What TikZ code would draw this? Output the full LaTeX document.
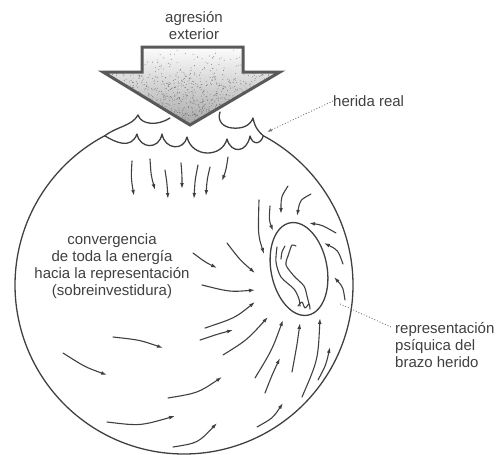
\documentclass[tikz,border=0pt]{standalone}
\usepackage{fontspec}
\setmainfont{Liberation Sans}
\usetikzlibrary{arrows.meta}
\begin{document}
\begin{tikzpicture}[x=1pt,y=-1pt,
  ink/.style={draw=black!75, line width=1.3pt, line cap=round, line join=round},
  flow/.style={draw=black!75, line width=1.1pt, line cap=round, -{Latex[length=6pt,width=3.8pt]}},
  leader/.style={draw=black!55, line width=0.9pt, dotted},
  lbl/.style={font=\fontsize{15}{17}\selectfont, text=black!75, inner sep=0pt}
]
\useasboundingbox (0,0) rectangle (498,455);

% ---------- block arrow (external aggression) ----------
\coordinate (a1) at (142,47);
\coordinate (a2) at (243,47);
\coordinate (a3) at (243,72);
\coordinate (a4) at (280,72);
\coordinate (a5) at (190,125);
\coordinate (a6) at (103,72);
\coordinate (a7) at (142,72);
\begin{scope}
  \clip (a1) -- (a2) -- (a3) -- (a4) -- (a5) -- (a6) -- (a7) -- cycle;
  \shade[top color=white, bottom color=black!35] (100,45) rectangle (282,127);
  \pgfmathsetseed{11}
  \foreach \i in {1,...,1400}{
    \pgfmathsetmacro{\px}{103+177*rnd}
    \pgfmathsetmacro{\py}{47+78*sqrt(rnd)}
    \fill[black!55] (\px,\py) circle[radius=0.45pt];
  }
\end{scope}
\draw[draw=black!65, line width=3pt, line join=miter]
  (a1) -- (a2) -- (a3) -- (a4) -- (a5) -- (a6) -- (a7) -- cycle;

\node[lbl] (agr1) at (194,19) {agresión};
\node[lbl] (agr2) at (194,34) {exterior};

% ---------- the psyche: circle broken by the wound ----------
\coordinate (wL) at (104.7,135.8);
\coordinate (wR) at (263.3,135.8);
\draw[ink] plot[domain=-62:242, samples=160, smooth]
  ({184+169*cos(\x)},{285+169*sin(\x)});

% scalloped edge of the wound
\draw[ink] (wL) .. controls (115,142) and (131,150) .. (137,134)
  .. controls (140,149) and (159,150) .. (162,134)
  .. controls (165,150) and (184,151) .. (187,137)
  .. controls (192,158) and (222,158) .. (227,139)
  .. controls (231,154) and (247,153) .. (250,136)
  .. controls (253,146) and (261,144) .. (wR);
% torn flaps
\draw[ink] (wL) .. controls (118,126) and (132,126) .. (138,115)
  .. controls (141,125) and (158,126) .. (170,118);
\draw[ink] (220,112) .. controls (217,121) and (223,127) .. (232,128)
  .. controls (242,129) and (250,126) .. (253,118)
  .. controls (255,128) and (259,132) .. (wR);

% ---------- representation of the injured arm ----------
\begin{scope}[shift={(299,269)}, rotate=11]
  \draw[ink] (0,0) ellipse [x radius=28pt, y radius=47pt];
\end{scope}
\draw[ink, line width=1.1pt] plot[smooth] coordinates {(277,247) (276,262) (281,277) (294,289) (299,299) (300,306)};
\draw[ink, line width=1.1pt] plot[smooth] coordinates {(288,256) (286,265) (294,276) (304,286) (307,296) (309,304)};
\draw[ink, line width=1.1pt] plot[smooth] coordinates {(281,259) (282,252) (285,246)};
\draw[ink, line width=1.1pt] plot[smooth] coordinates {(288,256) (290,250) (292,245) (296,246)};
\draw[ink, line width=1.1pt] plot[smooth] coordinates {(298,306) (302,302) (305,308) (309,304) (310,309)};

% ---------- energy flowing in from the wound ----------
\draw[flow] (132,161) .. controls (131,178) .. (134,196);
\draw[flow] (150,159) .. controls (151,175) .. (155,190);
\draw[flow] (165,170) .. controls (167,183) .. (168,199);
\draw[flow] (181,163) .. controls (182,175) .. (182,189);
\draw[flow] (198,165) .. controls (195,180) .. (194,199);
\draw[flow] (210,167) .. controls (207,180) .. (206,196);
\draw[flow] (228,157) .. controls (226,170) .. (222,181);

% ---------- convergence towards the representation ----------
% above
\draw[flow] (259,200) .. controls (258,235) .. (264,254);
\draw[flow] (270,206) .. controls (269,220) .. (273,231);
\draw[flow] (288,186) .. controls (281,197) .. (281,214);
\draw[flow] (311,194) .. controls (300,200) .. (297,216);
\draw[flow] (336,233) .. controls (322,225) .. (309,223);
% right
\draw[flow] (343,264) .. controls (338,250) .. (324,243);
\draw[flow] (345,300) .. controls (343,287) .. (334,277);
% below
\draw[flow] (318,380) .. controls (326,365) .. (330,347);
\draw[flow] (302,397) .. controls (318,360) .. (320,318);
\draw[flow] (292,372) .. controls (297,345) .. (300,323);
\draw[flow] (255,378) .. controls (272,350) .. (283,320);
\draw[flow] (265,393) .. controls (272,375) .. (280,358);
\draw[flow] (257,427) .. controls (273,418) .. (283,403);
\draw[flow] (173,447) .. controls (198,443) .. (217,423);
\draw[flow] (107,422) .. controls (140,426) .. (175,416);
\draw[flow] (168,398) .. controls (198,393) .. (222,377);
% left
\draw[flow] (193,253) .. controls (205,262) .. (217,268);
\draw[flow] (227,243) .. controls (240,260) .. (255,273);
\draw[flow] (202,285) .. controls (230,292) .. (255,290);
\draw[flow] (205,328) .. controls (235,318) .. (255,302);
\draw[flow] (200,340) .. controls (218,334) .. (233,330);
\draw[flow] (223,355) .. controls (247,340) .. (268,317);
\draw[flow] (113,337) .. controls (140,340) .. (163,348);
\draw[flow] (63,353) .. controls (85,367) .. (107,375);

% ---------- labels ----------
\node[lbl, align=center] (conv) at (112,266)
  {convergencia\\de toda la energía\\hacia la representación\\(sobreinvestidura)};

\node[lbl, anchor=west] (her) at (333,101) {herida real};
\coordinate (herTip) at (267,132);
\draw[leader, -{Latex[length=5pt,width=3.5pt]}] (her.west) -- (herTip);

\node[lbl, anchor=north west, align=left] (rep) at (395,322)
  {representación\\psíquica del\\brazo herido};
\coordinate (repFrom) at (391,327);
\coordinate (repTip) at (340,304);
\draw[leader] (repFrom) -- (repTip);
\end{tikzpicture}
\end{document}
